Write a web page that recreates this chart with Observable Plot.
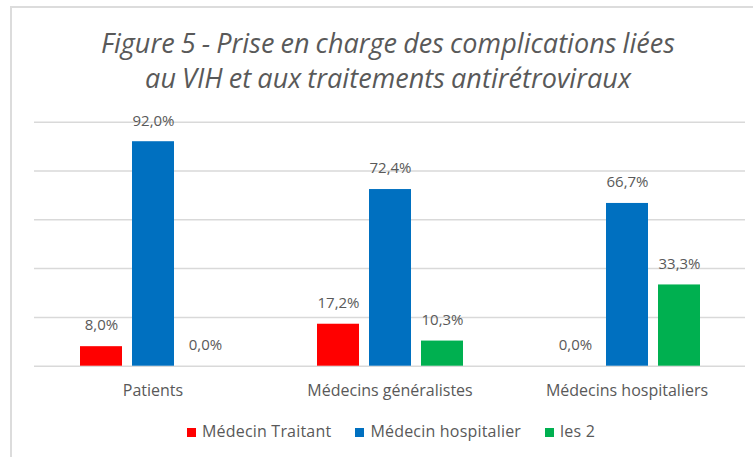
<!DOCTYPE html>
<html>
<head>
<meta charset="utf-8">
<script src="https://cdn.jsdelivr.net/npm/d3@7"></script>
<script src="https://cdn.jsdelivr.net/npm/@observablehq/plot@0.6"></script>
<style>
  html, body { margin: 0; padding: 0; background: #fff; }
  #wrap { position: relative; width: 753px; height: 457px; overflow: hidden; font-family: "Open Sans", sans-serif; color: #595959; }
  #frame { position: absolute; left: 10px; top: 6px; width: 760px; height: 470px; border-top: 2px solid #dcdcdc; border-left: 2px solid #dcdcdc; box-sizing: border-box; }
  #title { position: absolute; left: 0; width: 776px; top: 25px; text-align: center; font-style: italic; font-size: 27px; line-height: 35px; color: #595959; letter-spacing: 0.05px; word-spacing: -1px; white-space: nowrap; }
  #chart { position: absolute; left: 0; top: 100px; }
  #legend { position: absolute; left: 0; width: 782px; top: 420px; height: 22px; display: flex; justify-content: center; align-items: center; font-size: 16px; letter-spacing: 0.2px; }
  .item { display: flex; align-items: center; margin: 0 12px; }
  .sw { width: 9px; height: 9px; margin-right: 6px; margin-top: 3px; }
</style>
</head>
<body>
<div id="wrap">
  <div id="frame"></div>
  <div id="title"></div>
  <div id="chart"></div>
  <div id="legend"></div>
</div>
<script>
const titleLines = ["Figure 5 - Prise en charge des complications liées", "au VIH et aux traitements antirétroviraux"];
const categories = ["Patients", "Médecins généralistes", "Médecins hospitaliers"];
const series = ["Médecin Traitant", "Médecin hospitalier", "les 2"];
const medecinTraitant = [8.0, 17.2, 0.0];
const medecinHospitalier = [92.0, 72.4, 66.7];
const les2 = [0.0, 10.3, 33.3];
const colors = ["#FF0000", "#0070C0", "#00B050"];
const gridTicks = [0, 20, 40, 60, 80, 100];

const seriesValues = [medecinTraitant, medecinHospitalier, les2];
const rows = [];
categories.forEach((c, i) => {
  series.forEach((s, j) => {
    rows.push({category: c, series: s, value: seriesValues[j][i]});
  });
});

const fmt = v => v.toFixed(1).replace(".", ",") + "%";

document.getElementById("title").innerHTML = titleLines.join("<br>");

const chart = Plot.plot({
  width: 753,
  height: 300,
  marginLeft: 33,
  marginRight: 7,
  marginTop: 21.7,
  marginBottom: 34.3,
  fx: {domain: categories, padding: 0, label: null},
  x: {domain: series, paddingInner: 0.2, paddingOuter: 0.86, axis: null},
  y: {domain: [0, 100], axis: null},
  color: {domain: series, range: colors},
  style: {fontFamily: "Open Sans", fontSize: "15px", color: "#595959", background: "transparent"},
  marks: [
    Plot.ruleY(gridTicks, {stroke: "#d9d9d9", strokeWidth: 1.5}),
    Plot.barY(rows, {fx: "category", x: "series", y: "value", fill: "series"}),
    Plot.text(rows, {fx: "category", x: "series", y: "value", text: d => fmt(d.value), dy: -21, fill: "#595959", fontSize: 15, letterSpacing: "0.5px"}),
    Plot.axisFx({anchor: "bottom", tickSize: 0, tickPadding: 18, label: null, fontSize: 16, letterSpacing: "0.3px", color: "#595959"})
  ]
});
document.getElementById("chart").appendChild(chart);

const legend = document.getElementById("legend");
series.forEach((s, j) => {
  const item = document.createElement("div");
  item.className = "item";
  const sw = document.createElement("span");
  sw.className = "sw";
  sw.style.background = colors[j];
  const t = document.createElement("span");
  t.textContent = s;
  item.appendChild(sw);
  item.appendChild(t);
  legend.appendChild(item);
});
</script>
</body>
</html>
